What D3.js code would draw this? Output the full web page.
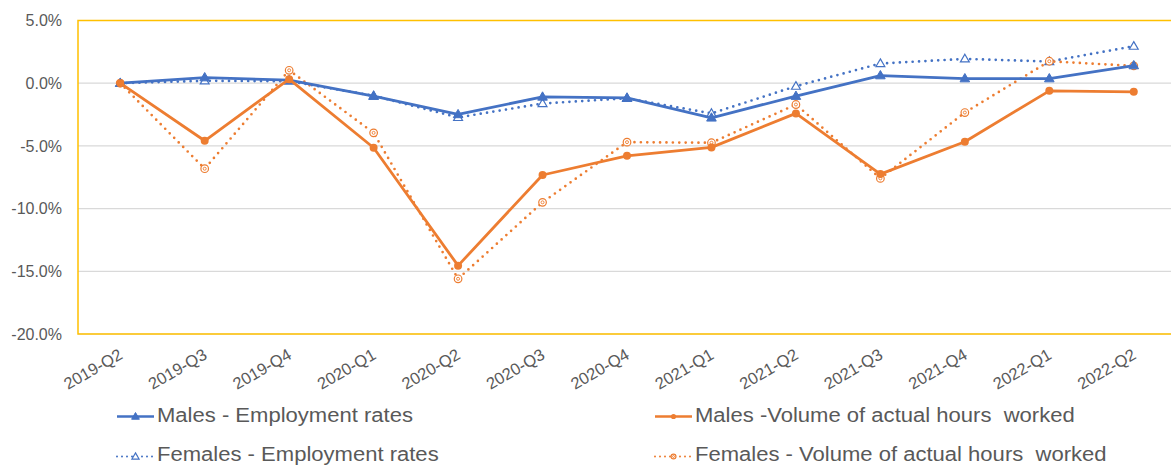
<!DOCTYPE html>
<html><head><meta charset="utf-8">
<script src="https://cdn.jsdelivr.net/npm/d3@7"></script>
<style>
body{margin:0;background:#fff;}
svg text{font-family:"Liberation Sans",Arial,sans-serif;fill:#595959;}
</style></head>
<body>
<svg id="c" width="1171" height="465"></svg>
<script>
const categories = ["2019-Q2","2019-Q3","2019-Q4","2020-Q1","2020-Q2","2020-Q3","2020-Q4","2021-Q1","2021-Q2","2021-Q3","2021-Q4","2022-Q1","2022-Q2"];
const malesEmployment = [0, 0.45, 0.24, -1.03, -2.49, -1.09, -1.17, -2.76, -1.03, 0.61, 0.37, 0.37, 1.41];
const femalesEmployment = [0, 0.19, 0.16, -1.0, -2.73, -1.62, -1.2, -2.41, -0.24, 1.57, 1.94, 1.73, 2.95];
const malesHours = [0, -4.59, 0.32, -5.15, -14.55, -7.32, -5.79, -5.12, -2.41, -7.25, -4.67, -0.61, -0.69];
const femalesHours = [0, -6.82, 1.03, -3.96, -15.6, -9.5, -4.70, -4.75, -1.70, -7.59, -2.34, 1.75, 1.38];
const yTicks = [5, 0, -5, -10, -15, -20];
const seriesNames = ["Males - Employment rates", "Males -Volume of actual hours  worked", "Females - Employment rates", "Females - Volume of actual hours  worked"];

const blue = "#4472C4", orange = "#ED7D31";
const svg = d3.select("#c");
const L = 78, R = 1176, T = 20.5, B = 334;
const x = d3.scalePoint().domain(categories).range([L, R]).padding(0.5);
const y = d3.scaleLinear().domain([-20, 5]).range([B, T]);

// gridlines
svg.append("g").selectAll("line").data(yTicks).join("line")
  .attr("x1", L).attr("x2", R).attr("y1", d => y(d)).attr("y2", d => y(d))
  .attr("stroke", "#D9D9D9").attr("stroke-width", 1.2);

// plot border
svg.append("rect").attr("x", L).attr("y", T).attr("width", R - L).attr("height", B - T)
  .attr("fill", "none").attr("stroke", "#FFC000").attr("stroke-width", 1.5);

// y axis labels
const yAxis = d3.axisLeft(y).tickValues(yTicks)
  .tickFormat(d => d.toFixed(1) + "%").tickSize(0).tickPadding(16);
const yg = svg.append("g").attr("transform", `translate(${L},0)`).call(yAxis);
yg.select(".domain").remove();
yg.selectAll("text").style("font-size", "16px").attr("fill", "#595959");

// x axis labels
const xAxis = d3.axisBottom(x).tickSize(0);
const xg = svg.append("g").attr("transform", `translate(0,${B})`).call(xAxis);
xg.select(".domain").remove();
xg.selectAll("text").style("font-size", "16.5px").attr("fill", "#595959")
  .attr("text-anchor", "end").attr("dy", 0).attr("y", 0)
  .attr("transform", "translate(3,24) rotate(-30)");

const series = [
  {name: seriesNames[2], vals: femalesEmployment, color: blue, dotted: true, marker: "tri", open: true},
  {name: seriesNames[3], vals: femalesHours, color: orange, dotted: true, marker: "circ", open: true},
  {name: seriesNames[0], vals: malesEmployment, color: blue, dotted: false, marker: "tri", open: false},
  {name: seriesNames[1], vals: malesHours, color: orange, dotted: false, marker: "circ", open: false}
];

const line = d3.line().x((d, i) => x(categories[i])).y(d => y(d));
const triSym = d3.symbol().type(d3.symbolTriangle);

function drawMarker(g, s, cx, cy, scale) {
  if (s.marker === "tri") {
    const size = s.open ? 34 : 40;
    g.append("path").attr("d", triSym.size(size * scale)())
      .attr("transform", `translate(${cx},${cy + 0.5})`)
      .attr("fill", s.open ? "#fff" : s.color).attr("stroke", s.color).attr("stroke-width", s.open ? 1.2 : 1);
  } else {
    if (s.open) {
      g.append("circle").attr("cx", cx).attr("cy", cy).attr("r", 3.8 * scale)
        .attr("fill", "#fff").attr("stroke", s.color).attr("stroke-width", 1.2);
      g.append("circle").attr("cx", cx).attr("cy", cy).attr("r", 1.5 * scale)
        .attr("fill", "none").attr("stroke", s.color).attr("stroke-width", 0.9);
    } else {
      g.append("circle").attr("cx", cx).attr("cy", cy).attr("r", 4 * scale).attr("fill", s.color);
    }
  }
}

series.forEach(s => {
  const p = svg.append("path").datum(s.vals).attr("d", line)
    .attr("fill", "none").attr("stroke", s.color)
    .attr("stroke-width", s.dotted ? 2.7 : 2.8)
    .attr("stroke-linejoin", "round");
  if (s.dotted) p.attr("stroke-dasharray", "0 6.4").attr("stroke-linecap", "round");
  const g = svg.append("g");
  s.vals.forEach((v, i) => drawMarker(g, s, x(categories[i]), y(v), 1));
});

// legend: males in first row, females in second
const colX = [117, 655], rowY = [416.5, 456.5];
const legendSeries = [
  [series.find(s => s.name === seriesNames[0]), series.find(s => s.name === seriesNames[1])],
  [series.find(s => s.name === seriesNames[2]), series.find(s => s.name === seriesNames[3])]
];
const lg = svg.append("g");
legendSeries.forEach((row, ri) => {
  row.forEach((s, ci) => {
    const lx = colX[ci], ly = rowY[ri];
    const l = lg.append("line").attr("x1", lx).attr("x2", lx + 37).attr("y1", ly).attr("y2", ly)
      .attr("stroke", s.color).attr("stroke-width", s.dotted ? 2 : 2.6);
    if (s.dotted) l.attr("stroke-dasharray", "0 5").attr("stroke-linecap", "round");
    drawMarker(lg, s, lx + 18.5, ly, 0.65);
    const t = lg.append("text").attr("x", lx + 40).attr("y", ly + 5 + (ri === 1 ? -0.5 : 0.5))
      .style("font-size", "19.5px").style("white-space", "pre").attr("xml:space", "preserve").text(s.name);
    const w = t.node().getComputedTextLength();
    t.attr("textLength", w * 1.13).attr("lengthAdjust", "spacingAndGlyphs");
  });
});
</script>
</body></html>
